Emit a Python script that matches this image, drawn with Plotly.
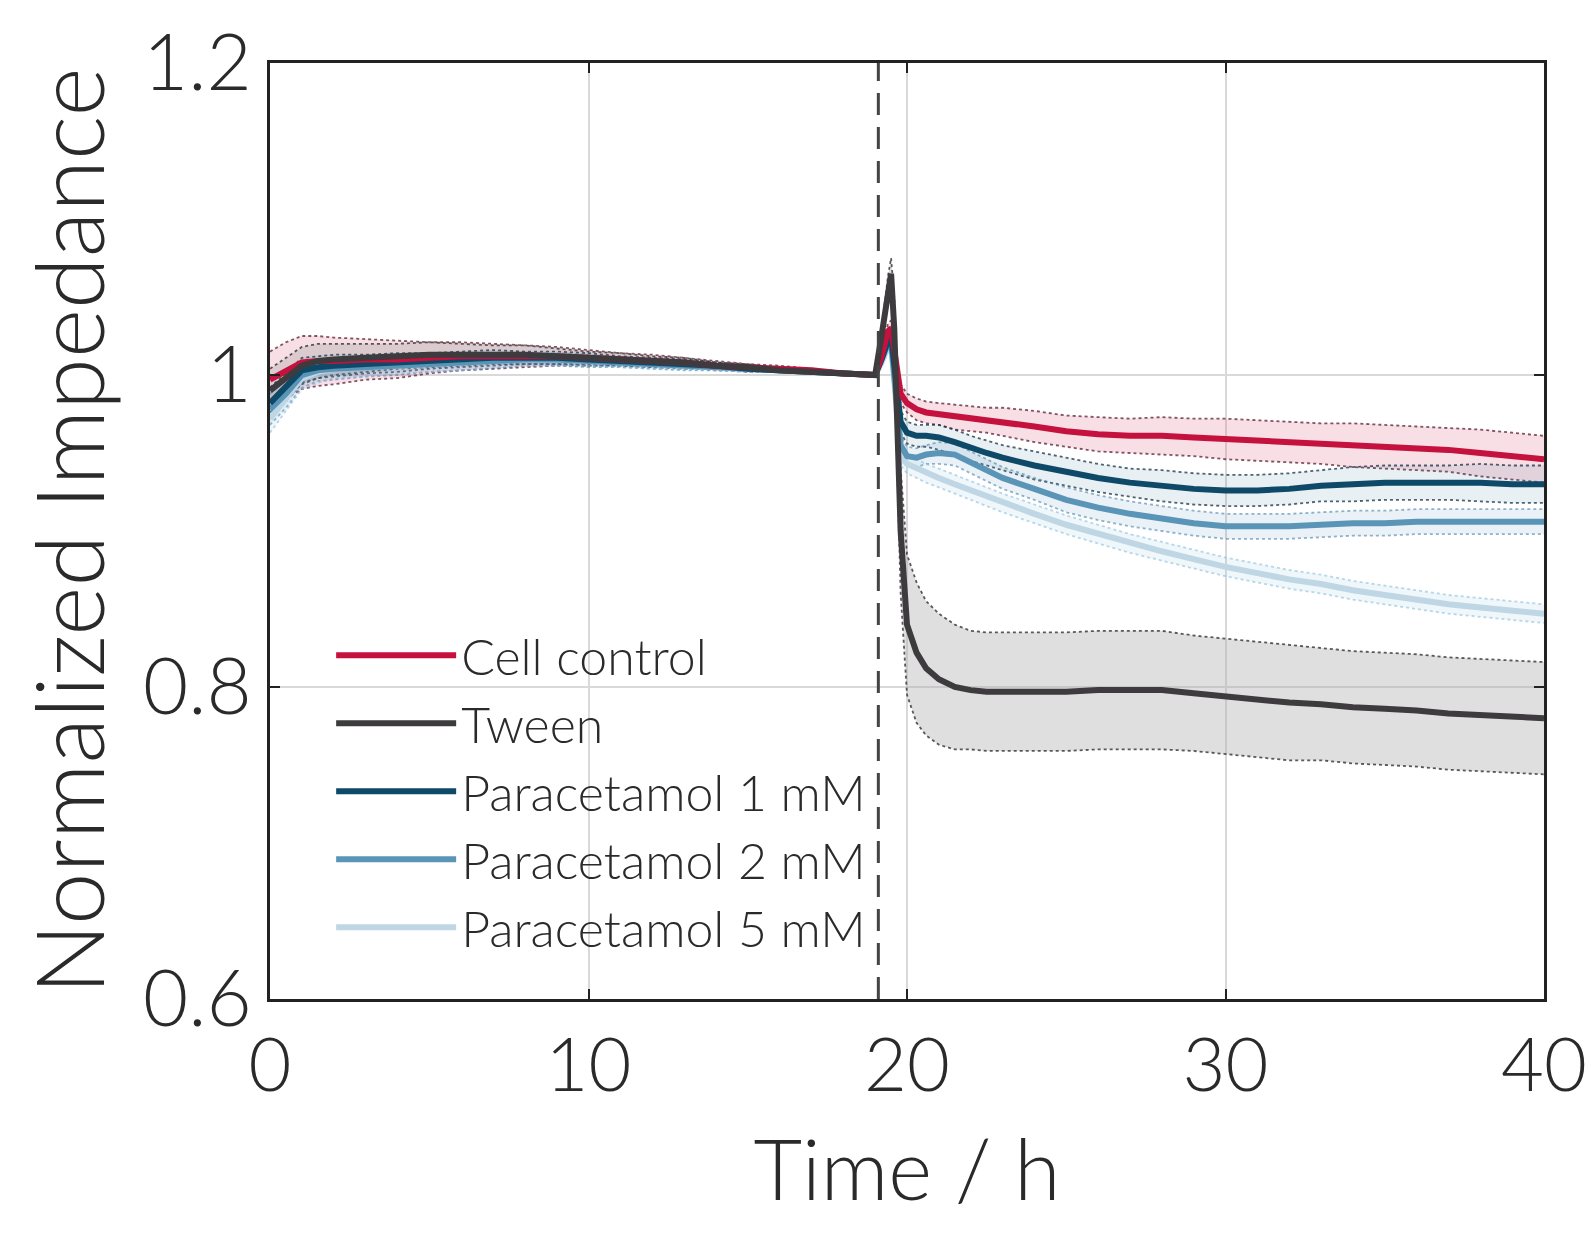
import plotly.graph_objects as go

# ---------------- data ----------------
time_h = [0, 0.5, 1, 1.5, 2, 3, 4, 5, 6, 7, 8, 9, 10, 11, 12, 13, 14, 15, 16, 17, 18, 19,
          19.2, 19.4, 19.5, 19.6, 19.8,
          20, 20.3, 20.6, 21, 21.5, 22, 22.5, 23,
          24, 25, 26, 27, 28, 29, 30, 31, 32, 33, 34, 35, 36, 37, 38, 39, 40]

treatment_time = 19.1

cell_control = [0.997, 1.003, 1.008, 1.009, 1.009, 1.010, 1.010, 1.011, 1.012, 1.012, 1.012, 1.012, 1.011, 1.010, 1.009, 1.008, 1.006, 1.005, 1.004, 1.003, 1.001, 1.000,
                1.012, 1.028, 1.030, 1.015, 0.988,
                0.982, 0.978, 0.976, 0.975, 0.973, 0.972, 0.971, 0.970,
                0.967, 0.964, 0.962, 0.961, 0.961, 0.960, 0.959, 0.958, 0.957, 0.956, 0.955, 0.954, 0.953, 0.952, 0.950, 0.948, 0.946]
cell_control_sd = [0.018, 0.018, 0.017, 0.016, 0.015, 0.013, 0.012, 0.010, 0.009, 0.008, 0.007, 0.006, 0.005, 0.004, 0.004, 0.003, 0.003, 0.002, 0.002, 0.001, 0.001, 0.000,
                   0.003, 0.005, 0.005, 0.005, 0.006,
                   0.006, 0.007, 0.007, 0.007, 0.008, 0.008, 0.008, 0.009,
                   0.010, 0.010, 0.011, 0.011, 0.012, 0.012, 0.013, 0.013, 0.013, 0.013, 0.014, 0.014, 0.014, 0.014, 0.015, 0.015, 0.015]

tween = [0.990, 0.998, 1.006, 1.009, 1.010, 1.011, 1.012, 1.013, 1.013, 1.013, 1.013, 1.012, 1.011, 1.010, 1.009, 1.008, 1.006, 1.005, 1.003, 1.002, 1.001, 1.000,
         1.025, 1.055, 1.065, 1.030, 0.900,
         0.840, 0.822, 0.812, 0.805, 0.800, 0.798, 0.797, 0.797,
         0.797, 0.797, 0.798, 0.798, 0.798, 0.796, 0.794, 0.792, 0.790, 0.789, 0.787, 0.786, 0.785, 0.783, 0.782, 0.781, 0.780]
tween_sd = [0.014, 0.013, 0.012, 0.011, 0.010, 0.009, 0.008, 0.008, 0.007, 0.006, 0.006, 0.005, 0.004, 0.004, 0.003, 0.003, 0.002, 0.002, 0.001, 0.001, 0.001, 0.000,
            0.004, 0.008, 0.010, 0.020, 0.040,
            0.045, 0.045, 0.043, 0.042, 0.040, 0.038, 0.038, 0.038,
            0.038, 0.038, 0.038, 0.038, 0.038, 0.037, 0.037, 0.037, 0.037, 0.036, 0.036, 0.036, 0.036, 0.036, 0.036, 0.036, 0.036]

para_1mM = [0.982, 0.992, 1.003, 1.005, 1.006, 1.007, 1.008, 1.009, 1.010, 1.011, 1.011, 1.011, 1.010, 1.009, 1.008, 1.007, 1.006, 1.004, 1.003, 1.002, 1.001, 1.000,
            1.010, 1.022, 1.025, 1.005, 0.970,
            0.963, 0.961, 0.961, 0.960, 0.957, 0.953, 0.950, 0.947,
            0.942, 0.938, 0.934, 0.931, 0.929, 0.927, 0.926, 0.926, 0.927, 0.929, 0.930, 0.931, 0.931, 0.931, 0.931, 0.930, 0.930]
para_1mM_sd = [0.010, 0.009, 0.008, 0.007, 0.007, 0.006, 0.006, 0.005, 0.005, 0.005, 0.004, 0.004, 0.004, 0.003, 0.003, 0.003, 0.002, 0.002, 0.001, 0.001, 0.001, 0.000,
               0.003, 0.005, 0.006, 0.006, 0.007,
               0.007, 0.007, 0.007, 0.008, 0.008, 0.008, 0.008, 0.008,
               0.009, 0.009, 0.009, 0.009, 0.010, 0.010, 0.010, 0.010, 0.010, 0.010, 0.011, 0.011, 0.011, 0.011, 0.012, 0.012, 0.012]

para_2mM = [0.978, 0.988, 1.000, 1.003, 1.004, 1.005, 1.006, 1.007, 1.008, 1.009, 1.010, 1.010, 1.009, 1.008, 1.007, 1.006, 1.005, 1.004, 1.003, 1.002, 1.001, 1.000,
            1.010, 1.020, 1.022, 1.000, 0.955,
            0.948, 0.947, 0.949, 0.950, 0.949, 0.944, 0.939, 0.934,
            0.927, 0.920, 0.915, 0.911, 0.908, 0.905, 0.903, 0.903, 0.903, 0.904, 0.905, 0.905, 0.906, 0.906, 0.906, 0.906, 0.906]
para_2mM_sd = [0.010, 0.009, 0.008, 0.007, 0.007, 0.006, 0.006, 0.005, 0.005, 0.005, 0.004, 0.004, 0.004, 0.003, 0.003, 0.003, 0.002, 0.002, 0.001, 0.001, 0.001, 0.000,
               0.003, 0.005, 0.006, 0.006, 0.006,
               0.006, 0.006, 0.006, 0.007, 0.007, 0.007, 0.007, 0.007,
               0.007, 0.008, 0.008, 0.008, 0.008, 0.008, 0.008, 0.008, 0.008, 0.008, 0.008, 0.008, 0.008, 0.008, 0.008, 0.008, 0.008]

para_5mM = [0.972, 0.985, 0.998, 1.002, 1.004, 1.005, 1.006, 1.007, 1.008, 1.009, 1.010, 1.010, 1.009, 1.008, 1.007, 1.006, 1.005, 1.004, 1.003, 1.002, 1.001, 1.000,
            1.008, 1.018, 1.020, 0.995, 0.948,
            0.943, 0.940, 0.937, 0.934, 0.930, 0.926, 0.922, 0.918,
            0.911, 0.904, 0.898, 0.892, 0.887, 0.882, 0.877, 0.873, 0.869, 0.866, 0.862, 0.859, 0.856, 0.853, 0.851, 0.849, 0.847]
para_5mM_sd = [0.009, 0.008, 0.007, 0.007, 0.006, 0.006, 0.005, 0.005, 0.005, 0.004, 0.004, 0.004, 0.003, 0.003, 0.003, 0.002, 0.002, 0.002, 0.001, 0.001, 0.001, 0.000,
               0.003, 0.004, 0.005, 0.005, 0.006,
               0.006, 0.006, 0.006, 0.006, 0.006, 0.006, 0.006, 0.006,
               0.006, 0.006, 0.006, 0.006, 0.006, 0.006, 0.006, 0.006, 0.006, 0.006, 0.006, 0.006, 0.006, 0.006, 0.006, 0.006, 0.006]

series_names = ["Cell control", "Tween", "Paracetamol 1 mM", "Paracetamol 2 mM", "Paracetamol 5 mM"]
x_ticks = [0, 10, 20, 30, 40]
y_ticks = [0.6, 0.8, 1.0, 1.2]
y_tick_labels = ["0.6", "0.8", "1", "1.2"]

# ---------------- styles ----------------
means = [cell_control, tween, para_1mM, para_2mM, para_5mM]
sds = [cell_control_sd, tween_sd, para_1mM_sd, para_2mM_sd, para_5mM_sd]
line_colors = ["#C4113E", "#3D3B3D", "#0E4A68", "#5A95B8", "#BFD6E4"]
fill_colors = ["rgba(215,70,110,0.18)", "rgba(175,175,175,0.40)", "rgba(40,110,150,0.10)",
               "rgba(90,150,190,0.12)", "rgba(150,200,230,0.15)"]
edge_colors = ["rgba(90,30,50,0.75)", "rgba(50,50,50,0.8)", "rgba(20,50,70,0.75)",
               "rgba(70,130,170,0.6)", "rgba(140,190,220,0.6)"]

FONT = "Lato"
TXT = "#2A2A2A"
fig = go.Figure()

# bands
for m, s, fc, ec in zip(means, sds, fill_colors, edge_colors):
    lower = [a - b for a, b in zip(m, s)]
    upper = [a + b for a, b in zip(m, s)]
    fig.add_trace(go.Scatter(x=time_h, y=lower, mode="lines",
                             line=dict(color=ec, width=1.8, dash="dot"),
                             showlegend=False, hoverinfo="skip"))
    fig.add_trace(go.Scatter(x=time_h, y=upper, mode="lines", fill="tonexty",
                             fillcolor=fc, line=dict(color=ec, width=1.8, dash="dot"),
                             showlegend=False, hoverinfo="skip"))

# mean lines (drawn lightest first so darker ones sit on top)
order = [4, 3, 2, 0, 1]
for i in order:
    fig.add_trace(go.Scatter(x=time_h, y=means[i], mode="lines", name=series_names[i],
                             line=dict(color=line_colors[i], width=6),
                             legendrank=i + 1))

fig.add_shape(type="line", x0=treatment_time, x1=treatment_time, y0=0.6, y1=1.2,
              xref="x", yref="y", line=dict(color="#444444", width=3, dash="22px,12px"), layer="above")

fig.update_layout(
    width=1591, height=1234,
    margin=dict(l=270, r=47, t=63, b=235, autoexpand=False),
    paper_bgcolor="white", plot_bgcolor="white",
    font=dict(family=FONT, color=TXT, weight=300),
    showlegend=True,
    legend=dict(x=0.048, y=0.035, xanchor="left", yanchor="bottom",
                bgcolor="rgba(0,0,0,0)", font=dict(size=50, family=FONT, color=TXT, weight=300),
                tracegroupgap=0, itemwidth=120, traceorder="normal"),
)
fig.update_xaxes(range=[0, 40], tickvals=x_ticks, ticktext=[str(v) for v in x_ticks],
                 showgrid=True, gridcolor="#D9D9D9", gridwidth=1.5, automargin=False,
                 ticklabeloverflow="allow",
                 showline=True, linecolor="#222222", linewidth=2.5, mirror="ticks",
                 ticks="inside", ticklen=10, tickwidth=2, tickcolor="#222222",
                 zeroline=False, tickfont=dict(size=74, family=FONT, color=TXT, weight=300),
                 title=dict(text="Time / h", font=dict(size=84, family=FONT, color=TXT, weight=300), standoff=36))
fig.update_yaxes(range=[0.6, 1.2], tickvals=y_ticks, ticktext=y_tick_labels,
                 showgrid=True, gridcolor="#D9D9D9", gridwidth=1.5, automargin=False,
                 ticklabeloverflow="allow",
                 showline=True, linecolor="#222222", linewidth=2.5, mirror="ticks",
                 ticks="inside", ticklen=10, tickwidth=2, tickcolor="#222222",
                 zeroline=False, tickfont=dict(size=78, family=FONT, color=TXT, weight=300),
                 title=dict(text="Normalized Impedance", font=dict(size=94, family=FONT, color=TXT, weight=300), standoff=8))

fig.write_html("out.html")
